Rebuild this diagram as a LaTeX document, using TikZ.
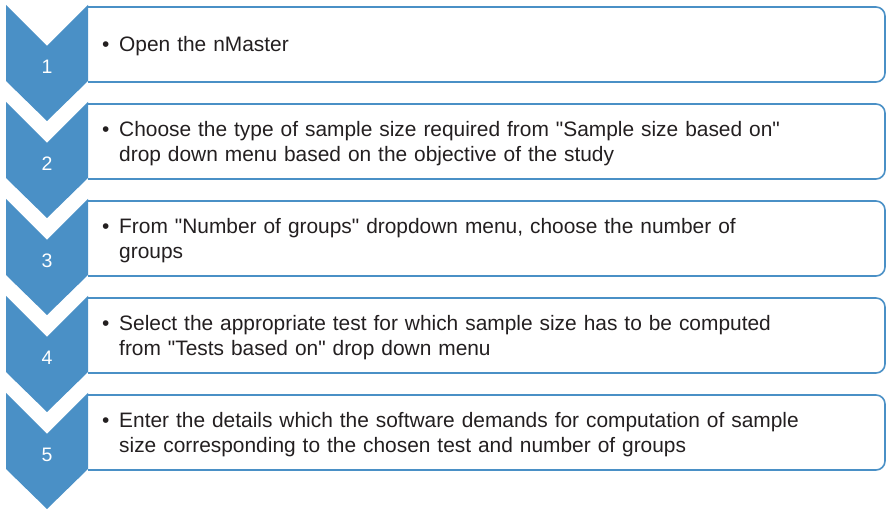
\documentclass[tikz,border=0pt]{standalone}
\usepackage{fontspec}
\setmainfont{Liberation Sans}[Ligatures=TeXOff]
\definecolor{stepblue}{RGB}{74,144,198}
\definecolor{textgray}{RGB}{35,31,32}

\begin{document}
\begin{tikzpicture}[x=1pt, y=1pt, line join=round,
	chevron/.style={fill=stepblue},
	stepbox/.style={draw=stepblue, line width=1.6pt, rounded corners=9pt},
	stepnum/.style={text=white, font=\fontsize{19.5}{23}\selectfont, inner sep=0pt},
	steptext/.style={anchor=west, inner sep=0pt, text width=770pt, align=left,
		text=textgray, font=\fontsize{20.9}{25}\selectfont}]
	
	\useasboundingbox (0,0) rectangle (887,-510);
	
	% bullet, and the indent of a following line
	\newcommand{\stepitem}{\makebox[17pt][l]{\textbullet}}
	\newcommand{\stepcont}{\hspace*{17pt}}
	
	%========================
	% Step 1
	%========================
	\begin{scope}[shift={(0,0)}]
		\fill[chevron] (6,-5) -- (47,-46) -- (88,-5) -- (88,-81) -- (47,-121) -- (6,-81) -- cycle;
		\draw[stepbox] (88,-7) -| (885,-82) -- (88,-82);
		\node[stepnum] (n1) at (47,-67) {1};
		\node[steptext] (s1) at (102,-46.5) {\stepitem Open the nMaster};
	\end{scope}
	
	%========================
	% Step 2
	%========================
	\begin{scope}[shift={(0,-97)}]
		\fill[chevron] (6,-5) -- (47,-46) -- (88,-5) -- (88,-81) -- (47,-121) -- (6,-81) -- cycle;
		\draw[stepbox] (88,-7) -| (885,-82) -- (88,-82);
		\node[stepnum] (n2) at (47,-67) {2};
		\node[steptext] (s2) at (102,-46.5) {\stepitem Choose the type of sample size required from "Sample size based on"\\
			\stepcont drop down menu based on the objective of the study};
	\end{scope}
	
	%========================
	% Step 3
	%========================
	\begin{scope}[shift={(0,-194)}]
		\fill[chevron] (6,-5) -- (47,-46) -- (88,-5) -- (88,-81) -- (47,-121) -- (6,-81) -- cycle;
		\draw[stepbox] (88,-7) -| (885,-82) -- (88,-82);
		\node[stepnum] (n3) at (47,-67) {3};
		\node[steptext] (s3) at (102,-46.5) {\stepitem From "Number of groups" dropdown menu, choose the number of\\
			\stepcont groups};
	\end{scope}
	
	%========================
	% Step 4
	%========================
	\begin{scope}[shift={(0,-291)}]
		\fill[chevron] (6,-5) -- (47,-46) -- (88,-5) -- (88,-81) -- (47,-121) -- (6,-81) -- cycle;
		\draw[stepbox] (88,-7) -| (885,-82) -- (88,-82);
		\node[stepnum] (n4) at (47,-67) {4};
		\node[steptext] (s4) at (102,-46.5) {\stepitem Select the appropriate test for which sample size has to be computed\\
			\stepcont from "Tests based on" drop down menu};
	\end{scope}
	
	%========================
	% Step 5
	%========================
	\begin{scope}[shift={(0,-388)}]
		\fill[chevron] (6,-5) -- (47,-46) -- (88,-5) -- (88,-81) -- (47,-121) -- (6,-81) -- cycle;
		\draw[stepbox] (88,-7) -| (885,-82) -- (88,-82);
		\node[stepnum] (n5) at (47,-67) {5};
		\node[steptext] (s5) at (102,-46.5) {\stepitem Enter the details which the software demands for computation of sample\\
			\stepcont size corresponding to the chosen test and number of groups};
	\end{scope}
	
\end{tikzpicture}
\end{document}
